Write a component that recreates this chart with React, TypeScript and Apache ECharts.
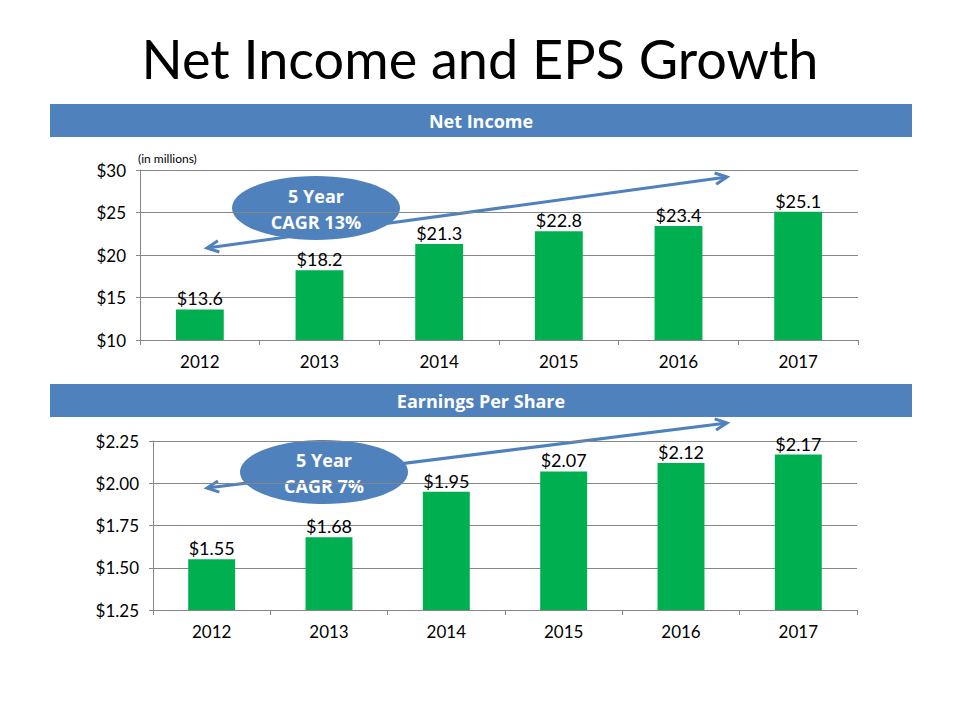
import React, { useEffect, useRef } from "react";
import * as echarts from "echarts";

const years = ["2012", "2013", "2014", "2015", "2016", "2017"];
const netIncome = [13.6, 18.2, 21.3, 22.8, 23.4, 25.1];
const eps = [1.55, 1.68, 1.95, 2.07, 2.12, 2.17];
const niAxis = { min: 10, max: 30, interval: 5 };
const epsAxis = { min: 1.25, max: 2.25, interval: 0.25 };

const BLUE = "#4F81BD";
const GREEN = "#00B050";
const GRID = "#868686";
const FONT = "Lato";
const BOLD_FONT = "Open Sans";

function arrow(x1: number, y1: number, x2: number, y2: number) {
  const els: any[] = [];
  els.push({
    type: "line",
    shape: { x1, y1, x2, y2 },
    style: { stroke: BLUE, lineWidth: 3 },
  });
  const head = (px: number, py: number, qx: number, qy: number) => {
    const ang = Math.atan2(py - qy, px - qx);
    const len = 13;
    const spread = 0.45;
    return {
      type: "polyline",
      shape: {
        points: [
          [px - len * Math.cos(ang - spread), py - len * Math.sin(ang - spread)],
          [px, py],
          [px - len * Math.cos(ang + spread), py - len * Math.sin(ang + spread)],
        ],
      },
      style: { stroke: BLUE, lineWidth: 3, fill: null },
    };
  };
  els.push(head(x1, y1, x2, y2));
  els.push(head(x2, y2, x1, y1));
  return els;
}

function bubble(cx: number, cy: number, lines: string[]) {
  return [
    {
      type: "ellipse",
      shape: { cx, cy, rx: 84, ry: 32 },
      style: { fill: BLUE },
    },
    {
      type: "text",
      x: cx,
      y: cy + 1,
      style: {
        text: lines.join("\n"),
        fill: "#fff",
        fontFamily: BOLD_FONT,
        fontWeight: 700,
        fontSize: 18,
        align: "center",
        verticalAlign: "middle",
        lineHeight: 26,
      },
    },
  ];
}

function banner(y: number, text: string) {
  return [
    { type: "rect", shape: { x: 50, y, width: 862, height: 33 }, style: { fill: BLUE } },
    {
      type: "text",
      x: 481,
      y: y + 17,
      style: {
        text,
        fill: "#fff",
        fontFamily: BOLD_FONT,
        fontWeight: 700,
        fontSize: 18,
        align: "center",
        verticalAlign: "middle",
      },
    },
  ];
}

export default function App() {
  const ref = useRef<HTMLDivElement>(null);
  useEffect(() => {
    if (!ref.current) return;
    const chart = echarts.init(ref.current, null, { renderer: "svg" });
    const xAxisCommon = (gridIndex: number) => ({
      type: "category" as const,
      gridIndex,
      data: years,
      axisLine: { show: true, lineStyle: { color: GRID, width: 1 } },
      axisTick: { show: true, alignWithLabel: false, length: 5, lineStyle: { color: GRID } },
      axisLabel: { color: "#000", fontSize: 17, fontFamily: FONT, margin: 13 },
    });
    const yAxisCommon = (gridIndex: number, ax: any, dec: number) => ({
      type: "value" as const,
      gridIndex,
      min: ax.min,
      max: ax.max,
      interval: ax.interval,
      axisLine: { show: true, lineStyle: { color: GRID, width: 1 } },
      axisTick: { show: true, length: 4, lineStyle: { color: GRID } },
      splitLine: { show: true, lineStyle: { color: GRID, width: 1 } },
      axisLabel: {
        color: "#000",
        fontSize: 17,
        fontFamily: FONT,
        margin: 14,
        formatter: (v: number) => "$" + v.toFixed(dec),
      },
    });
    chart.setOption({
      animation: false,
      backgroundColor: "#fff",
      grid: [
        { left: 140, right: 102, top: 170, height: 170 },
        { left: 153, right: 103, top: 441, height: 169 },
      ],
      xAxis: [xAxisCommon(0), xAxisCommon(1)],
      yAxis: [yAxisCommon(0, niAxis, 0), yAxisCommon(1, epsAxis, 2)],
      series: [
        {
          type: "bar",
          xAxisIndex: 0,
          yAxisIndex: 0,
          data: netIncome,
          barWidth: "40%",
          itemStyle: { color: GREEN },
          label: {
            show: true,
            position: "top",
            distance: 2,
            color: "#000",
            fontSize: 18,
            fontFamily: FONT,
            formatter: (p: any) => "$" + Number(p.value).toFixed(1),
          },
        },
        {
          type: "bar",
          xAxisIndex: 1,
          yAxisIndex: 1,
          data: eps,
          barWidth: "40%",
          itemStyle: { color: GREEN },
          label: {
            show: true,
            position: "top",
            distance: 2,
            color: "#000",
            fontSize: 18,
            fontFamily: FONT,
            formatter: (p: any) => "$" + Number(p.value).toFixed(2),
          },
        },
      ],
      graphic: [
        {
          type: "text",
          x: 480,
          y: 58,
          style: {
            text: "Net Income and EPS Growth",
            fill: "#000",
            fontFamily: FONT,
            fontSize: 54,
            align: "center",
            verticalAlign: "middle",
          },
        },
        ...banner(104, "Net Income"),
        ...banner(384, "Earnings Per Share"),
        {
          type: "text",
          x: 138,
          y: 158,
          style: {
            text: "(in millions)",
            fill: "#000",
            fontFamily: FONT,
            fontSize: 12,
            align: "left",
            verticalAlign: "middle",
          },
        },
        ...arrow(207, 248, 727, 177),
        ...arrow(207, 488, 727, 423),
        ...bubble(316, 208, ["5 Year", "CAGR 13%"]),
        ...bubble(324, 472, ["5 Year", "CAGR 7%"]),
      ],
    });
    return () => chart.dispose();
  }, []);
  return (
    <div
      ref={ref}
      style={{ position: "absolute", left: 0, top: 0, width: 960, height: 720 }}
    />
  );
}
